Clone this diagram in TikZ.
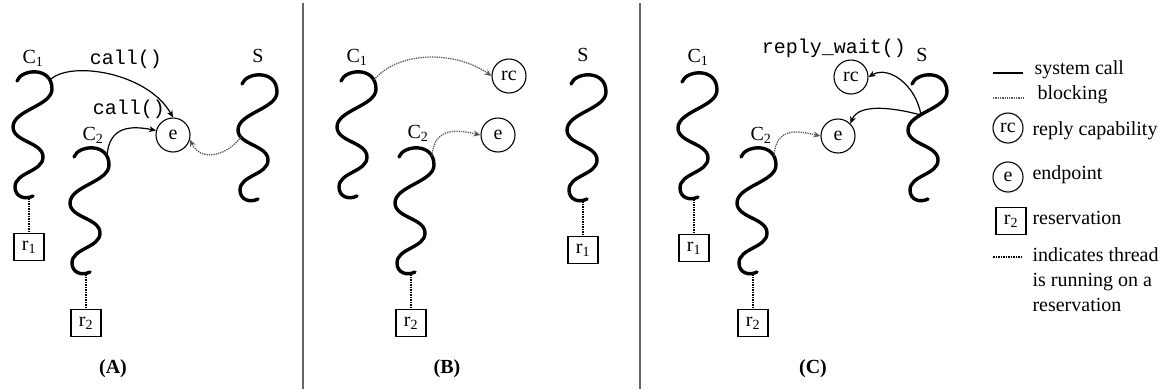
\documentclass[tikz,border=0pt]{standalone}
\usepackage{fontspec}
\setmainfont{Liberation Serif}
\setmonofont{Liberation Mono}
\usetikzlibrary{arrows.meta,positioning}
\tikzset{%
thr/.style={line width=3.4pt,line cap=round},
sys/.style={line width=1.2pt},
blk/.style={line width=1.3pt,densely dotted,black!65},
run/.style={line width=1.5pt,densely dotted},
obj/.style={circle,draw,line width=1.1pt,minimum size=34pt,inner sep=0pt},
resv/.style={draw,line width=1.1pt,minimum width=30pt,minimum height=27pt,inner sep=0pt},
divider/.style={line width=2pt,black!60},
thread/.pic={
  \draw[thr] (-16,9) .. controls (-12,-3) and (19,-6) .. (19,17)
             .. controls (19,34) and (-20,38) .. (-20,55)
             .. controls (-20,70) and (10,70) .. (10,85)
             .. controls (10,100) and (-18,100) .. (-18,115)
             .. controls (-18,125) and (-8,128) .. (0,124);
  \coordinate (-top)  at (0,0);
  \coordinate (-hook) at (17,8);
  \coordinate (-mid)  at (-7,40);
  \coordinate (-back) at (-17,62);
  \coordinate (-foot) at (-4,126);
}
}

\begin{document}
\begin{tikzpicture}[x=1pt,y=-1pt,>={Stealth[length=7pt,width=6pt]},
                    every node/.append style={font=\fontsize{20}{25}\selectfont}]
\useasboundingbox (0,0) rectangle (1167,389);
%% threads
\foreach \nm/\i/\j in {C1A/33/72, C2A/90/148, SA/258/75,
                       C1B/357/72, C2B/415/148, SB/587/75,
                       C1C/698/73, C2C/757/148, SC/928/75}
     \pic (\nm) at (\i,\j) {thread};
%%
\foreach \nm/\txt/\i/\j in {labC1A/C\textsubscript{1}/33/58, labC2A/C\textsubscript{2}/93/135, labSA/S/258/56,
                           labC1B/C\textsubscript{1}/357/57, labC2B/C\textsubscript{2}/418/133, labSB/S/583/55,
                           labC1C/C\textsubscript{1}/698/57, labC2C/C\textsubscript{2}/761/135, labSC/S/922/55}
     \node[inner sep=1pt] (\nm) at (\i,\j) {\txt};
%% endpoints and reply caps
\node[obj] (eA)  at (173,135) {e};
\node[obj] (rcB) at (509,76)  {rc};
\node[obj] (eB)  at (498,135) {e};
\node[obj] (rcC) at (851,77)  {rc};
\node[obj] (eC)  at (838,136) {e};
%% reservations
\foreach \thr/\nm/\k in {C1A/r1A/1, C2A/r2A/2, C2B/r2B/2, SB/r1B/1, C1C/r1C/1, C2C/r2C/2}
  {
     \node[resv, below=35pt of \thr-foot] (\nm) {r\textsubscript{\k}};
     \draw[run] (\thr-foot) -- (\nm);
  }
%% calls
\node (callA1) at (126,59)  {\texttt{call()}};
\node (callA2) at (129,109) {\texttt{call()}};
\node (replyC) at (834,48)  {\texttt{reply\_wait()}};
%%
\draw[sys,->] (C1A-hook) .. controls +(20,-20) and +(-25,-45) .. (eA.north);
\draw[sys,->] (C2A-hook) .. controls +(2,-30) and +(-25,-5) .. (eA.165);
\draw[blk,->] (SA-back)  .. controls +(-15,20) and +(10,22) .. (eA.-15);
%
\draw[blk,->] (C1B-hook) .. controls +(25,-30) and +(-35,-25) .. (rcB.west);
\draw[blk,->] (C2B-hook) .. controls +(2,-30) and +(-22,-5) .. (eB.west);
%
\draw[blk,->] (C2C-hook) .. controls +(2,-30) and +(-22,-5) .. (eC.west);
\draw[sys,->] (SC-mid)   .. controls +(-5,-30) and +(20,-12) .. (rcC.east);
\draw[sys,->] (SC-mid)   .. controls +(-30,-8) and +(8,-20) .. (eC.45);
%% panel names
\node[font=\fontsize{20}{25}\selectfont\bfseries] (panA) at (113,369) {(A)};
\node[font=\fontsize{20}{25}\selectfont\bfseries] (panB) at (447,369) {(B)};
\node[font=\fontsize{20}{25}\selectfont\bfseries] (panC) at (813,369) {(C)};
%% dividers
\coordinate (divAt) at (303,3);  \coordinate (divAb) at (303,389);
\coordinate (divBt) at (640,3);  \coordinate (divBb) at (640,389);
\draw[divider] (divAt) -- (divAb);
\draw[divider] (divBt) -- (divBb);
%% legend
\coordinate (sysL) at (993,73);  \coordinate (sysR) at (1023,73);
\coordinate (blkL) at (993,98);  \coordinate (blkR) at (1023,98);
\coordinate (runL) at (993,257); \coordinate (runR) at (1023,257);
\draw[sys] (sysL) -- (sysR);
\draw[blk] (blkL) -- (blkR);
\draw[run] (runL) -- (runR);
\node[obj,minimum size=30pt] (legRC) at (1008,128) {rc};
\node[obj,minimum size=30pt] (legE)  at (1008,177) {e};
\node[resv] (legR) at (1011,221) {r\textsubscript{2}};
\node[anchor=west] (txtSys) at (1031,70)  {system call};
\node[anchor=west] (txtBlk) at (1034,95)  {blocking};
\node[anchor=west] (txtRC)  at (1029,131) {reply capability};
\node[anchor=west] (txtE)   at (1029,175) {endpoint};
\node[anchor=west] (txtR)   at (1029,218) {reservation};
\node[anchor=north west,align=left] (txtRun) at (1029,244) {indicates thread\\is running on a\\reservation};
\end{tikzpicture}
\end{document}
